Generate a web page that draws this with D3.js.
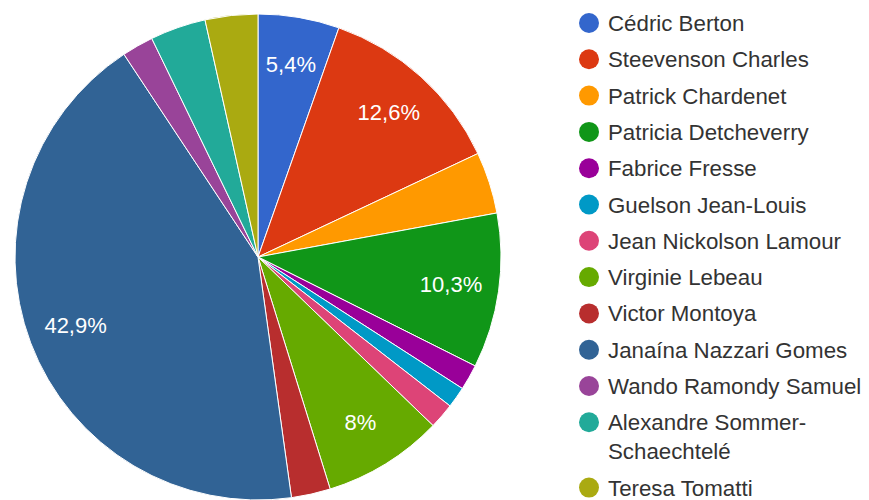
<!DOCTYPE html>
<html>
<head>
<meta charset="utf-8">
<script src="https://cdn.jsdelivr.net/npm/d3@7"></script>
<style>
  body { margin: 0; background: #fff; }
  svg { display: block; font-family: "Liberation Sans", Arial, sans-serif; }
</style>
</head>
<body>
<svg id="chart" width="869" height="500"></svg>
<script>
const names = [
  "Cédric Berton", "Steevenson Charles", "Patrick Chardenet", "Patricia Detcheverry",
  "Fabrice Fresse", "Guelson Jean-Louis", "Jean Nickolson Lamour", "Virginie Lebeau",
  "Victor Montoya", "Janaína Nazzari Gomes", "Wando Ramondy Samuel",
  "Alexandre Sommer-Schaechtelé", "Teresa Tomatti"
]
const shares = [5.4, 12.6, 4.1, 10.3, 1.7, 1.4, 1.7, 8, 2.6, 42.9, 2.1, 3.7, 3.5]
const colors = [
  "#3366cc", "#dc3912", "#ff9900", "#109618", "#990099", "#0099c6", "#dd4477",
  "#66aa00", "#b82e2e", "#316395", "#994499", "#22aa99", "#aaaa11"
]

const width = 869
const height = 500
const cx = 258, cy = 257, radius = 243

const svg = d3.select("#chart")
const data = names.map((n, i) => ({name: n, value: shares[i], color: colors[i]}))

//pie
const pie = d3.pie().sort(null).value(d => d.value)
const arc = d3.arc().innerRadius(0).outerRadius(radius)
const labelArc = d3.arc().innerRadius(195).outerRadius(195)
const arcs = pie(data)

const g = svg.append("g").attr("transform", `translate(${cx},${cy})`)
g.selectAll("path")
  .data(arcs)
  .join("path")
  .attr("d", arc)
  .attr("fill", d => d.data.color)
  .attr("stroke", "#fff")
  .attr("stroke-width", 1)

const fmt = v => String(v).replace(".", ",") + "%"
g.selectAll("text")
  .data(arcs.filter(d => d.data.value >= 5))
  .join("text")
  .attr("transform", d => `translate(${labelArc.centroid(d)})`)
  .attr("text-anchor", "middle")
  .attr("dominant-baseline", "central")
  .attr("fill", "#fff")
  .attr("font-size", 22)
  .text(d => fmt(d.data.value))

//legend
const legend = svg.append("g")
const maxW = 258
let y = 23
data.forEach(d => {
  const row = legend.append("g")
  row.append("circle")
    .attr("cx", 589).attr("cy", y).attr("r", 10)
    .attr("fill", d.color)
  const text = row.append("text")
    .attr("x", 608).attr("y", y)
    .attr("dominant-baseline", "central")
    .attr("font-size", 22.3)
    .attr("fill", "#333")
  // wrap after spaces and hyphens
  const tokens = d.name.match(/[^\s-]+[\s-]?/g)
  let line = "", lines = []
  tokens.forEach(t => {
    text.text(line + t)
    if (line && text.node().getComputedTextLength() > maxW) {
      lines.push(line.trim())
      line = t
    } else line += t
  })
  lines.push(line.trim())
  text.text(null)
  lines.forEach((l, i) => {
    text.append("tspan").attr("x", 608).attr("y", y + i * 29).text(l)
  })
  y += 36.3 + (lines.length - 1) * 29
})
</script>
</body>
</html>
